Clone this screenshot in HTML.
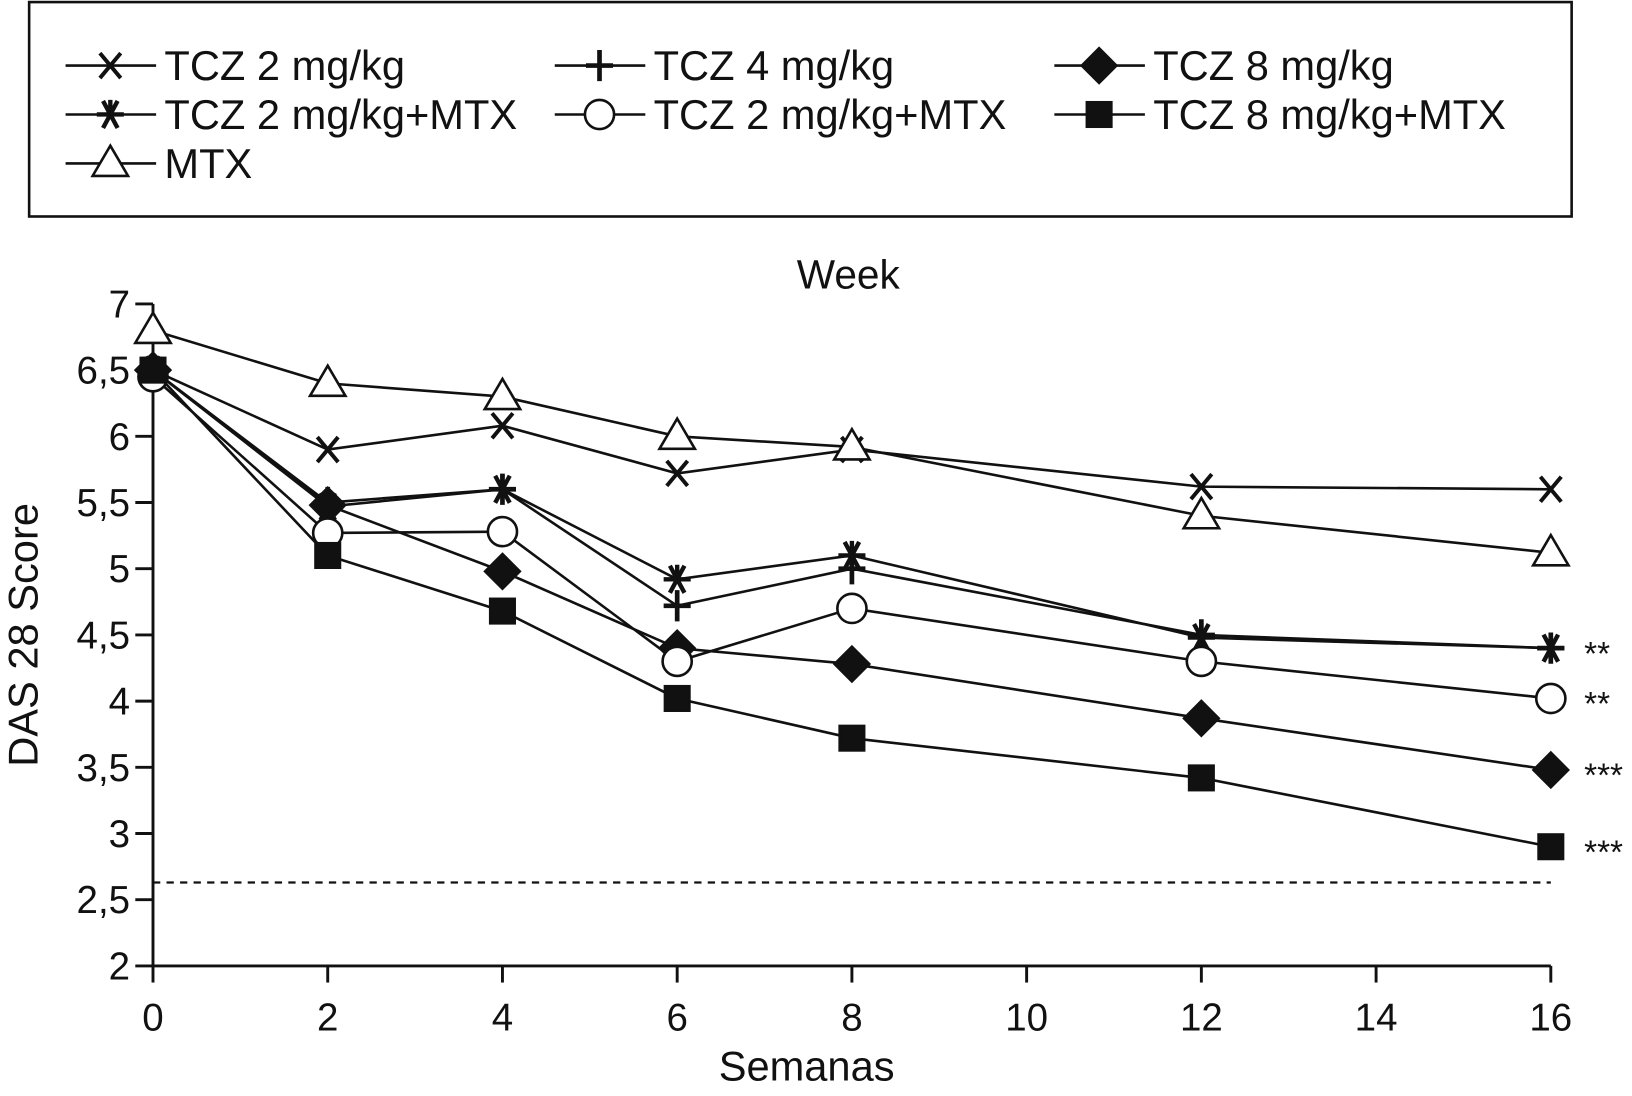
<!DOCTYPE html>
<html><head><meta charset="utf-8"><style>
html,body{margin:0;padding:0;background:#fff}
svg{display:block}
text{font-family:"Liberation Sans",Arial,sans-serif;fill:#111}
</style></head><body>
<svg id="chart" width="1632" height="1096" viewBox="0 0 1568 1053" preserveAspectRatio="none" xmlns="http://www.w3.org/2000/svg">
<rect x="28" y="2" width="1482" height="206" fill="#fff" stroke="#111" stroke-width="2.5"/>
<g id="legend"></g>
<text x="815" y="277" font-size="39" text-anchor="middle">Week</text>
<g id="axes"></g>
<g id="plot"></g>
<text x="775" y="1038" font-size="40" text-anchor="middle">Semanas</text>
<text transform="translate(36,610) rotate(-90)" font-size="40" text-anchor="middle">DAS 28 Score</text>
</svg>
<script>
const weeks=[0,2,4,6,8,12,16];
const seriesNames=["TCZ 2 mg/kg","TCZ 4 mg/kg","TCZ 8 mg/kg","TCZ 2 mg/kg+MTX","TCZ 2 mg/kg+MTX","TCZ 8 mg/kg+MTX","MTX"];
const seriesMarkers=["x","plus","diamond","star","circle","square","triangle"];
const tcz2=[6.5,5.9,6.08,5.72,5.9,5.62,5.6];
const tcz4=[6.5,5.5,5.6,4.72,5.0,4.5,4.4];
const tcz8=[6.5,5.48,4.98,4.4,4.28,3.87,3.48];
const tcz2mtxStar=[6.5,5.47,5.6,4.92,5.1,4.48,4.4];
const tcz2mtxCircle=[6.45,5.27,5.28,4.3,4.7,4.3,4.02];
const tcz8mtx=[6.5,5.1,4.68,4.02,3.72,3.42,2.9];
const mtx=[6.8,6.4,6.3,6.0,5.92,5.4,5.12];
const allSeries=[tcz2,tcz4,tcz8,tcz2mtxStar,tcz2mtxCircle,tcz8mtx,mtx];
const xTicks=[0,2,4,6,8,10,12,14,16];
const yTicks=[2,2.5,3,3.5,4,4.5,5,5.5,6,6.5,7];
const yTickLabels=["2","2,5","3","3,5","4","4,5","5","5,5","6","6,5","7"];
const remissionLine=2.63;
const sigValues=[4.4,4.02,3.48,2.9];
const sigLabels=["**","**","***","***"];

const NS="http://www.w3.org/2000/svg";
const X0=147,X1=1490,Y2=928,Y7=292;
const xs=v=>X0+(v-0)/(16-0)*(X1-X0);
const ys=v=>Y2-(v-2)/(7-2)*(Y2-Y7);
function mk(tag,attrs,parent){const e=document.createElementNS(NS,tag);for(const k in attrs)e.setAttribute(k,attrs[k]);parent.appendChild(e);return e;}
const axes=document.getElementById('axes'),plot=document.getElementById('plot'),legend=document.getElementById('legend');
const st={stroke:"#111","stroke-width":2.8,fill:"none"};
let a=mk('line',{x1:X0,y1:Y7,x2:X0,y2:Y2,...st},axes);

a=mk('line',{x1:X0,y1:Y2,x2:X1,y2:Y2,...st},axes);

yTicks.forEach((v,i)=>{mk('line',{x1:X0-17,y1:ys(v),x2:X0,y2:ys(v),...st},axes);
 const t=mk('text',{x:X0-22,y:ys(v)+13,"font-size":37,"text-anchor":"end"},axes);t.textContent=yTickLabels[i];
 });
xTicks.forEach(v=>{mk('line',{x1:xs(v),y1:Y2,x2:xs(v),y2:Y2+16,...st},axes);
 const t=mk('text',{x:xs(v),y:Y2+62,"font-size":37,"text-anchor":"middle"},axes);t.textContent=v;
 });
const dl=mk('line',{x1:X0,y1:ys(remissionLine),x2:X1,y2:ys(remissionLine),stroke:"#111","stroke-width":2.2,"stroke-dasharray":"7,6"},plot);


function marker(type,x,y,g){
 const f={fill:"#111",stroke:"#111","stroke-width":2};
 const o={fill:"#fff",stroke:"#111","stroke-width":2.5};
 if(type==="x"){mk('path',{d:`M${x-10} ${y-12}L${x+10} ${y+12}M${x+10} ${y-12}L${x-10} ${y+12}`,stroke:"#111","stroke-width":3.8},g);}
 else if(type==="plus"){mk('path',{d:`M${x-13} ${y}L${x+13} ${y}M${x} ${y-15}L${x} ${y+15}`,stroke:"#111","stroke-width":4.5},g);}
 else if(type==="star"){mk('path',{d:`M${x-13} ${y}L${x+13} ${y}M${x-7} ${y-13}L${x+7} ${y+13}M${x+7} ${y-13}L${x-7} ${y+13}M${x} ${y-14}L${x} ${y+4}`,stroke:"#111","stroke-width":4.2},g);}
 else if(type==="diamond"){mk('polygon',{points:`${x},${y-17} ${x+17},${y} ${x},${y+17} ${x-17},${y}`,...f},g);}
 else if(type==="square"){mk('rect',{x:x-12,y:y-12,width:24,height:24,...f},g);}
 else if(type==="circle"){mk('circle',{cx:x,cy:y,r:14,...o},g);}
 else if(type==="triangle"){mk('polygon',{points:`${x},${y-17} ${x+17},${y+12} ${x-17},${y+12}`,...o},g);}
}
allSeries.forEach((vals,si)=>{
 const g=mk('g',{},plot);
 
 
 const d=vals.map((v,i)=>(i?'L':'M')+xs(weeks[i])+' '+ys(v)).join('');
 mk('path',{d,stroke:"#111","stroke-width":2.5,fill:"none"},g);
 vals.forEach((v,i)=>marker(seriesMarkers[si],xs(weeks[i]),ys(v),g));
});
sigValues.forEach((v,i)=>{const t=mk('text',{x:1522,y:ys(v)+16,"font-size":32},plot);t.textContent=sigLabels[i];
 });
const lx=[63,533,1013],ly=[63,110,157];
seriesNames.forEach((n,i)=>{const c=i%3,r=Math.floor(i/3);
 const g=mk('g',{},legend);
 
 
 mk('line',{x1:lx[c],y1:ly[r],x2:lx[c]+87,y2:ly[r],stroke:"#111","stroke-width":2.5},g);
 marker(seriesMarkers[i],lx[c]+43,ly[r],g);
 const t=mk('text',{x:lx[c]+95,y:ly[r]+14,"font-size":40},g);t.textContent=n;});
</script>
</body></html>
